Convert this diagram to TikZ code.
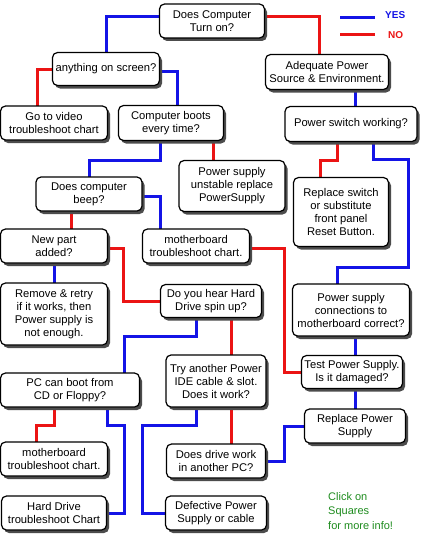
\documentclass[tikz,border=0pt]{standalone}
\usepackage{fontspec}
\setmainfont{Liberation Sans}
\usetikzlibrary{shadows}
\begin{document}
\begin{tikzpicture}[x=1pt,y=-1pt,
  box/.style={draw=black,line width=1.2pt,rounded corners=5pt,fill=white,inner sep=0pt,align=center,
    font=\fontsize{11.2}{13}\selectfont,
    drop shadow={shadow xshift=2.5pt,shadow yshift=-3pt,fill=black!70,opacity=1}},
  ghost/.style={draw=none,fill=none,inner sep=0pt},
  yes/.style={draw={rgb,255:red,20;green,20;blue,230},line width=3pt},
  no/.style={draw={rgb,255:red,235;green,20;blue,20},line width=3pt}]
\useasboundingbox[fill=white] (0,0) rectangle (420,543);
\def\gx#1#2#3#4#5{\node[ghost,minimum width=#4pt,minimum height=#5pt] (#1) at (#2,#3) {};}
\def\bx#1#2#3#4#5#6{\node[box,minimum width=#4pt,minimum height=#5pt] (#1) at (#2,#3) {#6};}
\coordinate (y1) at (340,18); \coordinate (y2) at (375,18);
\coordinate (n1) at (340,35); \coordinate (n2) at (375,35);
\gx{A}{212}{21}{105}{34}
\gx{B}{106}{69}{107}{33}
\gx{C}{327}{72}{123}{35}
\gx{D}{54}{123}{107}{34}
\gx{E}{171}{123}{105}{35}
\gx{F}{351}{124}{132}{35}
\gx{G}{232}{186}{106}{51}
\gx{H}{89}{194}{106}{34}
\gx{I}{341}{212}{95}{69}
\gx{J}{54}{246}{107}{34}
\gx{K}{196}{246}{107}{34}
\gx{L}{54}{314}{107}{62}
\gx{M}{211}{301}{101}{33}
\gx{N}{351}{310}{117}{52}
\gx{O}{70}{390}{139}{34}
\gx{P}{216}{381}{100}{52}
\gx{Q}{352}{372}{101}{33}
\gx{R}{355}{426}{101}{34}
\gx{S}{216}{461}{99}{34}
\gx{T}{54}{459}{107}{34}
\gx{U}{54}{513}{105}{34}
\gx{V}{216}{513}{101}{34}
\draw[yes] ([yshift=4pt]A.west) -| (B.north);
\draw[no] ([yshift=4pt]A.east) -| ([xshift=-8pt]C.north);
\draw[no] (B.west) -| ([xshift=-17pt]D.north);
\draw[yes] ([yshift=-2pt]B.east) -| ([xshift=6pt]E.north);
\draw[yes] ([xshift=28pt]C.south) -- ([xshift=4pt]F.north);
\draw[yes] ([xshift=-11pt]E.south) -- ++(0,20) -| (H.north);
\draw[no] ([xshift=42pt]E.south) -- ([xshift=-19pt]G.north);
\draw[no] ([xshift=-14pt]F.south) -- ++(0,19) -| ([xshift=-21pt]I.north);
\draw[yes] ([xshift=22pt]F.south) -- ++(0,18) -- ++(35,0) -- ++(0,108) -| ([xshift=-14pt]N.north);
\draw[no] ([xshift=-18pt]H.south) -- ([xshift=17pt]J.north);
\draw[yes] ([yshift=-2pt]H.east) -| ([xshift=-36pt]K.north);
\draw[yes] (J.south) -- (L.north);
\draw[no] ([yshift=-2pt]J.east) -- ++(16,0) |- (M.west);
\draw[no] ([yshift=-2pt]K.east) -- ++(35,0) |- (Q.west);
\draw[yes] ([xshift=4pt]N.south) -- ([xshift=3pt]Q.north);
\draw[yes] ([xshift=3pt]Q.south) -- (R.north);
\draw[yes] ([xshift=-15pt]M.south) -- ++(0,19) -| ([xshift=54pt]O.north);
\draw[no] ([xshift=20pt]M.south) -- ([xshift=15pt]P.north);
\draw[no] ([xshift=-16pt]O.south) -- ++(0,18) -| ([xshift=-18pt]T.north);
\draw[yes] ([xshift=37pt]O.south) -- ++(0,18) -- ++(17,0) |- (U.east);
\draw[yes] ([xshift=-20pt]P.south) -- ++(0,18) -- ++(-54,0) |- (V.west);
\draw[no] ([xshift=15pt]P.south) -- ([xshift=15pt]S.north);
\draw[yes] (S.east) -- ++(19,0) |- (R.west);
\draw[yes] (y1) -- (y2);
\draw[no] (n1) -- (n2);
\bx{A}{212}{21}{105}{34}{Does Computer\\Turn on?}
\bx{B}{106}{69}{107}{33}{anything on screen?}
\bx{C}{327}{72}{123}{35}{Adequate Power\\Source \& Environment.}
\bx{D}{54}{123}{107}{34}{Go to video\\troubleshoot chart}
\bx{E}{171}{123}{105}{35}{Computer boots\\every time?}
\bx{F}{351}{124}{132}{35}{Power switch working?}
\bx{G}{232}{186}{106}{51}{Power supply\\unstable replace\\PowerSupply}
\bx{H}{89}{194}{106}{34}{Does computer\\beep?}
\bx{I}{341}{212}{95}{69}{Replace switch\\or substitute\\front panel\\Reset Button.}
\bx{J}{54}{246}{107}{34}{New part\\added?}
\bx{K}{196}{246}{107}{34}{motherboard\\troubleshoot chart.}
\bx{L}{54}{314}{107}{62}{Remove \& retry\\if it works, then\\Power supply is\\not enough.}
\bx{M}{211}{301}{101}{33}{Do you hear Hard\\Drive spin up?}
\bx{N}{351}{310}{117}{52}{Power supply\\connections to\\motherboard correct?}
\bx{O}{70}{390}{139}{34}{PC can boot from\\CD or Floppy?}
\bx{P}{216}{381}{100}{52}{Try another Power\\IDE cable \& slot.\\Does it work?}
\bx{Q}{352}{372}{101}{33}{Test Power Supply.\\Is it damaged?}
\bx{R}{355}{426}{101}{34}{Replace Power\\Supply}
\bx{S}{216}{461}{99}{34}{Does drive work\\in another PC?}
\bx{T}{54}{459}{107}{34}{motherboard\\troubleshoot chart.}
\bx{U}{54}{513}{105}{34}{Hard Drive\\troubleshoot Chart}
\bx{V}{216}{513}{101}{34}{Defective Power\\Supply or cable}
\node[font=\fontsize{11}{14.5}\selectfont,text={rgb,255:red,30;green,140;blue,30},align=left,anchor=north west,inner sep=0pt] (click) at (328,492) {Click on\\Squares\\for more info!};
\node[font=\bfseries\fontsize{10}{12}\selectfont,text={rgb,255:red,20;green,20;blue,230},anchor=west,inner sep=0pt] (yes) at (385,15) {YES};
\node[font=\bfseries\fontsize{10}{12}\selectfont,text={rgb,255:red,235;green,20;blue,20},anchor=west,inner sep=0pt] (no) at (388,35) {NO};
\end{tikzpicture}
\end{document}
